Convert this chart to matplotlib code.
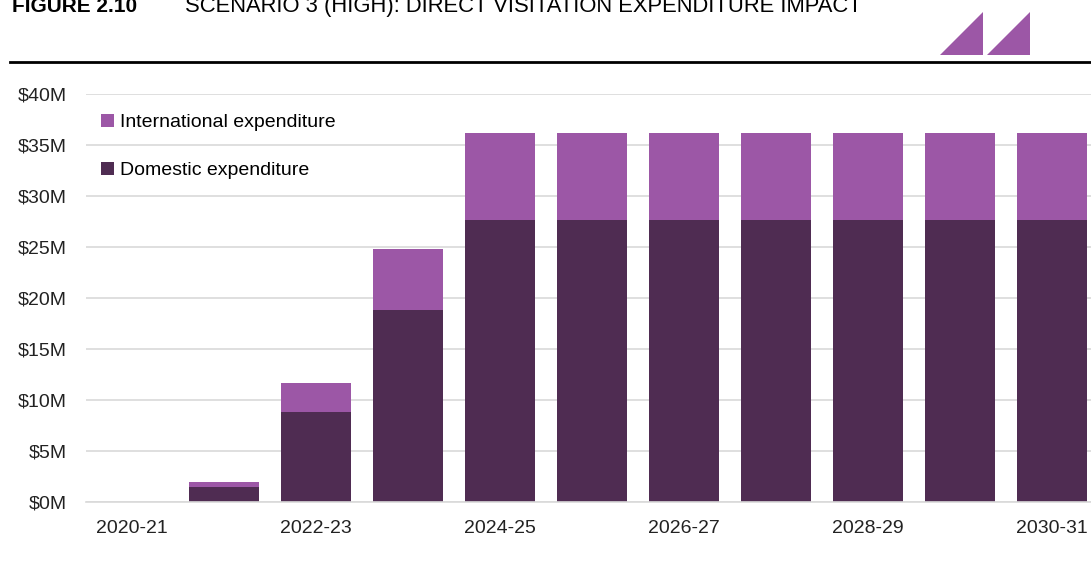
import numpy as np
import matplotlib
matplotlib.use('Agg')
from matplotlib import pyplot as plt
from matplotlib.patches import Polygon
from matplotlib.lines import Line2D

plt.rcParams['font.family'] = ['Liberation Sans', 'DejaVu Sans']

years = ['2020-21', '2021-22', '2022-23', '2023-24', '2024-25', '2025-26',
         '2026-27', '2027-28', '2028-29', '2029-30', '2030-31']
domestic = [0, 1.5, 8.8, 18.8, 27.6, 27.6, 27.6, 27.6, 27.6, 27.6, 27.6]
international = [0, 0.5, 2.9, 6.0, 8.6, 8.6, 8.6, 8.6, 8.6, 8.6, 8.6]
yticks = [0, 5, 10, 15, 20, 25, 30, 35, 40]

DOM = '#4F2C52'
INTL = '#9C57A6'
W, H = 1091, 561

fig = plt.figure(figsize=(W / 100, H / 100), dpi=100)

# axes extends past the right edge, like the cropped original
ax = fig.add_axes([86 / W, 1 - 502 / H, 1012 / W, 408 / H])
x = np.arange(len(years))
ax.bar(x, domestic, width=0.77, color=DOM, label='Domestic expenditure', zorder=2)
ax.bar(x, international, width=0.77, bottom=domestic, color=INTL,
       label='International expenditure', zorder=2)

ax.set_xlim(-0.5, len(years) - 0.5)
ax.set_ylim(0, 40)
ax.set_yticks(yticks)
ax.set_yticklabels([f'${v}M' for v in yticks])
ax.set_xticks(x[::2])
ax.set_xticklabels(years[::2])
ax.tick_params(axis='both', length=0, labelsize=14, colors='#222222')
ax.tick_params(axis='y', pad=14)
ax.tick_params(axis='x', pad=13)
ax.grid(axis='y', color='#D9D9D9', linewidth=1.2, zorder=0)
for s in ['top', 'right', 'left']:
    ax.spines[s].set_visible(False)
ax.spines['bottom'].set_color('#D9D9D9')
ax.spines['bottom'].set_linewidth(1.2)

handles, labels = ax.get_legend_handles_labels()
ax.legend(handles[::-1], labels[::-1], loc='upper left', bbox_to_anchor=(-0.002, 0.995),
          frameon=False, fontsize=14, handlelength=0.65, handleheight=0.65,
          handletextpad=0.3, labelspacing=1.6, borderaxespad=0.5)

# cropped title at the top
fig.text(12 / W, 1 - 12 / H, 'FIGURE 2.10', fontsize=15, fontweight='bold', va='baseline')
fig.text(185 / W, 1 - 12 / H, 'SCENARIO 3 (HIGH): DIRECT VISITATION EXPENDITURE IMPACT',
         fontsize=15.8, va='baseline')

# rule under title
fig.add_artist(Line2D([10 / W, 1.0], [1 - 62 / H, 1 - 62 / H], color='black', linewidth=2))

# logo triangles
for x0 in [940, 987]:
    tri = Polygon([[x0 / W, 1 - 55 / H], [(x0 + 43) / W, 1 - 55 / H], [(x0 + 43) / W, 1 - 12 / H]],
                  closed=True, facecolor=INTL, edgecolor='none', transform=fig.transFigure)
    fig.add_artist(tri)

fig.savefig('out.png', dpi=100)
